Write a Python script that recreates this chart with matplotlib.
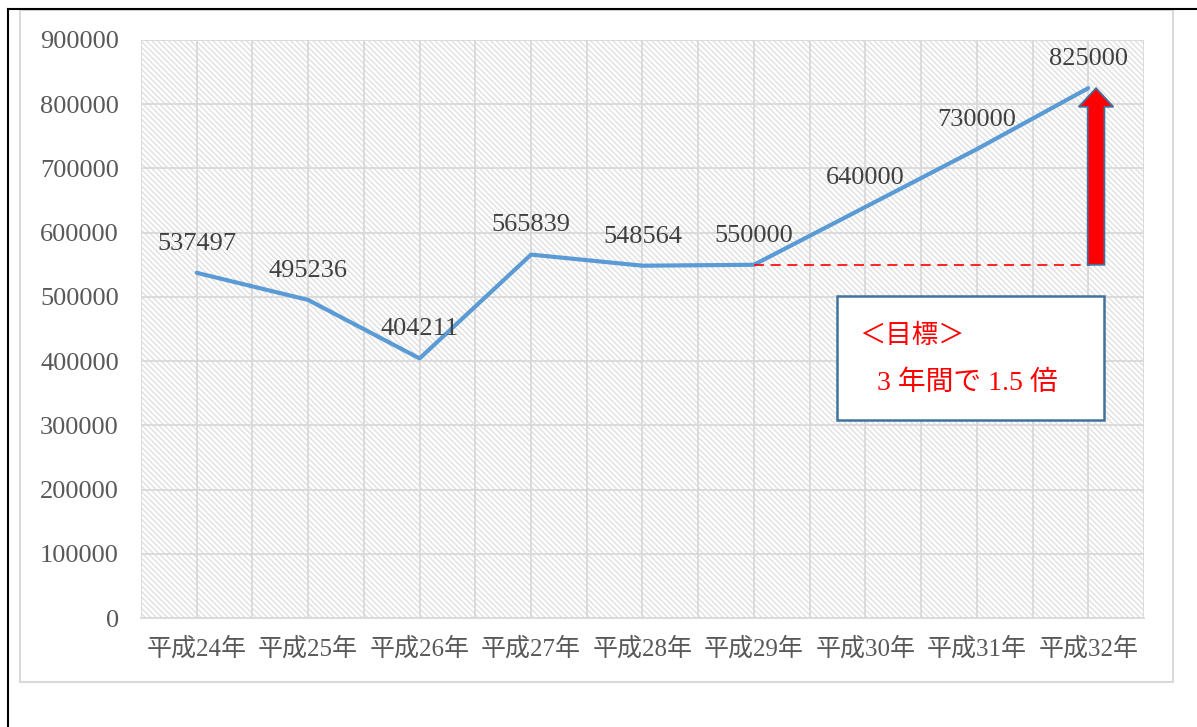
import matplotlib.pyplot as plt
from matplotlib.patches import Rectangle, FancyArrow
from matplotlib.lines import Line2D

years = ['平成24年', '平成25年', '平成26年', '平成27年', '平成28年',
         '平成29年', '平成30年', '平成31年', '平成32年']
visitors = [537497, 495236, 404211, 565839, 548564, 550000, 640000, 730000, 825000]
y_ticks = [0, 100000, 200000, 300000, 400000, 500000, 600000, 700000, 800000, 900000]
base_idx = 5  # 平成29年 = 基準

fonts = ['Liberation Serif', 'Noto Sans CJK JP']
plt.rcParams['font.family'] = fonts
plt.rcParams['hatch.linewidth'] = 1.0

fig = plt.figure(figsize=(11.97, 7.27), dpi=100)
ax = fig.add_axes([0.1178, 0.1499, 0.8379, 0.7951])

x = list(range(len(years)))

# 背景のハッチング
ax.add_patch(Rectangle((0, 0), 1, 1, transform=ax.transAxes, facecolor='white',
                       edgecolor='#E0E0E0', hatch='\\\\\\\\\\\\', lw=0, zorder=0.1))

ax.plot(x, visitors, color='#5B9BD5', lw=3, solid_capstyle='round', zorder=3)

for xi, v in zip(x, visitors):
    ax.annotate(str(v), (xi, v), xytext=(0, 21), textcoords='offset points',
                ha='center', va='center', fontsize=19, color='#404040', zorder=4)

# 目標ライン
ax.plot([base_idx, len(years) - 1 + 0.02], [visitors[base_idx]] * 2, color='red',
        lw=1.2, dashes=(6, 4), zorder=3)
ax.add_patch(FancyArrow(len(years) - 1 + 0.07, visitors[base_idx], 0,
                        visitors[-1] - visitors[base_idx], width=0.15,
                        head_width=0.31, head_length=29000,
                        length_includes_head=True, facecolor='red',
                        edgecolor='#41719C', lw=1.3, zorder=5))

ax.set_xlim(-0.5, len(years) - 0.5)
ax.set_ylim(0, 900000)
ax.set_yticks(y_ticks)
ax.set_yticklabels([str(t) for t in y_ticks])
ax.set_xticks(x)
ax.set_xticklabels(years)
ax.set_xticks([i - 0.5 for i in range(len(years) + 1)], minor=True)
ax.tick_params(which='both', length=0, labelcolor='#595959')
ax.tick_params(axis='y', pad=16, labelsize=19)
ax.tick_params(axis='x', pad=14, labelsize=18)
ax.grid(True, which='both', axis='x', color='#D9D9D9', lw=1.3, zorder=0.5)
ax.grid(True, which='major', axis='y', color='#D9D9D9', lw=1.3, zorder=0.5)
ax.set_axisbelow(True)
for s in ['top', 'right', 'left']:
    ax.spines[s].set_visible(False)
ax.spines['bottom'].set_color('#D9D9D9')
ax.spines['bottom'].set_linewidth(1.3)

# 目標の枠
ax.add_patch(Rectangle((0.694, 0.3426), 0.266, 0.2144, transform=ax.transAxes,
                       facecolor='white', edgecolor='#41719C', lw=1.8, zorder=6))
ax.text(0.716, 0.488, '＜目標＞', transform=ax.transAxes, fontsize=19,
        color='red', va='center', ha='left', family=['Noto Sans CJK JP'], zorder=7)
ax.text(0.734, 0.4066, '3 年間で 1.5 倍', transform=ax.transAxes, fontsize=20,
        color='red', va='center', ha='left', zorder=7)

# 外枠
fig.patches.append(Rectangle((20 / 1197, 1 - 682 / 727), 1153 / 1197, 672 / 727,
                             transform=fig.transFigure, fill=False,
                             edgecolor='#D9D9D9', lw=1.5))
fig.lines.append(Line2D([8 / 1197, 8 / 1197], [0, 1 - 9 / 727], transform=fig.transFigure,
                        color='black', lw=1.5))
fig.lines.append(Line2D([8 / 1197, 1], [1 - 9 / 727, 1 - 9 / 727], transform=fig.transFigure,
                        color='black', lw=1.5))

fig.savefig('out.png', dpi=100)
